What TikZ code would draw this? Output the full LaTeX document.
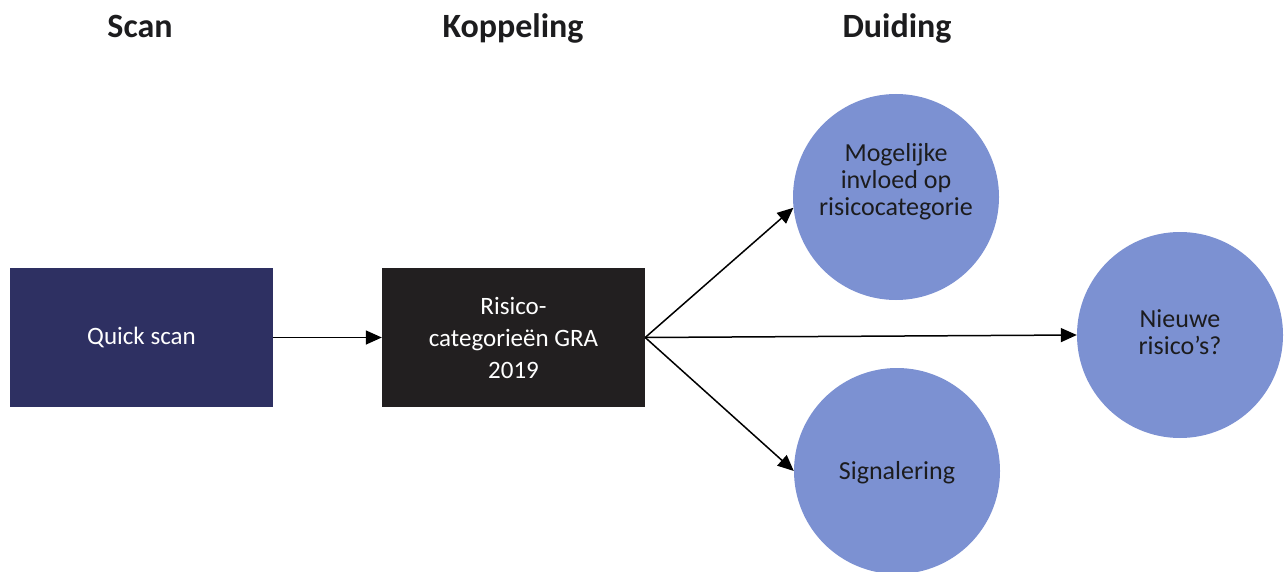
\documentclass[tikz,border=0pt]{standalone}
\usepackage{fontspec}
\setmainfont{Carlito}
\usetikzlibrary{arrows.meta}
\definecolor{navybox}{RGB}{46,48,98}
\definecolor{darkbox}{RGB}{34,31,32}
\definecolor{circblue}{RGB}{124,145,210}
\definecolor{txtdark}{RGB}{28,28,30}
\tikzset{
  header/.style={font=\fontsize{34}{36}\selectfont\bfseries, text=txtdark, anchor=base, inner sep=0},
  boxnode/.style={rectangle, minimum width=263pt, minimum height=139pt, inner sep=0, text=white, align=center, font=\fontsize{25}{32}\selectfont},
  circnode/.style={circle, fill=circblue, minimum size=206pt, inner sep=0},
  circtext/.style={align=center, text=txtdark, inner sep=0, font=\fontsize{26}{27}\selectfont},
  conn/.style={draw=black, line width=1.5pt, -{Triangle[length=16pt,width=14pt]}}
}
\begin{document}
\begin{tikzpicture}[x=1pt,y=-1pt]
\useasboundingbox (0,0) rectangle (1284,572);
\node[header] (h1) at (140,38) {Scan};
\node[header] (h2) at (513,38) {Koppeling};
\node[header] (h3) at (897,38) {Duiding};

\node[boxnode, fill=navybox] (qs) at (141.5,337.5) {Quick scan};
\node[boxnode, fill=darkbox] (rc) at (513.5,337.5) {Risico-\\categorieën GRA\\2019};

\node[circnode] (c1) at (896,197) {};
\node[circnode] (c2) at (1180,335) {};
\node[circnode] (c3) at (897,471) {};

\node[circtext] (t1) at ([yshift=15pt]c1.center) {Mogelijke\\invloed op\\risicocategorie};
\node[circtext] (t2) at ([yshift=3pt]c2.center) {Nieuwe\\risico’s?};
\node[circtext] (t3) at ([yshift=-2pt]c3.center) {Signalering};

\draw[conn] (qs.east) -- (rc.west);
\draw[conn] (rc.east) -- (c1.186);
\draw[conn] (rc.east) -- (c2.west);
\draw[conn] (rc.east) -- (c3.west);
\end{tikzpicture}
\end{document}
